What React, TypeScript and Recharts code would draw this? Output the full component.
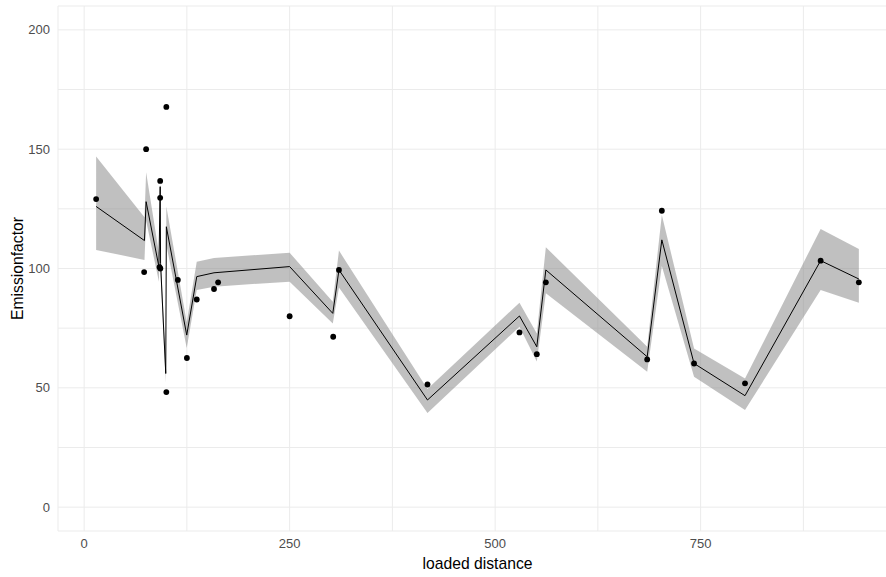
import { ComposedChart, Area, Line, Scatter, XAxis, YAxis, CartesianGrid, Label } from 'recharts';

// observed points
const pointX = [14.6, 73, 75.4, 92.5, 92.5, 91.7, 92.7, 100, 100, 114, 125, 137, 158, 163, 250, 303, 310, 417.7, 529.6, 550.7, 561.7, 685, 702.8, 742, 804, 896, 942.5];
const pointY = [129.1, 98.5, 150, 136.7, 129.6, 100.6, 100, 167.7, 48.2, 95.2, 62.5, 87, 91.4, 94.2, 80, 71.4, 99.4, 51.4, 73.2, 64.1, 94.2, 61.9, 124.2, 60.2, 51.9, 103.3, 94.2];

// fitted line with confidence band
const fitX = [14.6, 73.4, 75.4, 91, 92.5, 93, 99.3, 100, 124.8, 137, 158, 250, 302.5, 310, 417.7, 529.6, 550.7, 561.7, 685, 702.8, 742, 804, 896, 942.5];
const fitY = [126, 111.7, 128, 100.7, 134.3, 102, 56, 117.5, 72.1, 96.6, 98.2, 100.8, 81.2, 99.4, 44.9, 80.1, 67.2, 99.4, 63, 112, 60.2, 46.7, 103.3, 95.6];
const fitLo = [107.8, 103.6, 120, 94.5, 129, 97, 52, 110, 66.7, 91, 92.4, 94.5, 77, 92, 39.4, 75.6, 61, 89.6, 56.7, 101, 54.6, 40.7, 91, 85.7];
const fitHi = [146.9, 121.5, 140.3, 106.5, 138, 106, 60, 126, 77.5, 102.8, 104.4, 106.6, 86.1, 107.5, 49.5, 85.7, 72.8, 108.9, 67.2, 122.4, 66.5, 53.9, 116.6, 108.2];

const xTicks = [0, 125, 250, 375, 500, 625, 750, 875];
const xLabels = [0, 250, 500, 750];
const yTicks = [0, 25, 50, 75, 100, 125, 150, 175, 200];
const yLabels = [0, 50, 100, 150, 200];

const fitData = fitX.map((x, i) => ({ x, fit: fitY[i], band: [fitLo[i], fitHi[i]] }));
const pointData = pointX.map((x, i) => ({ x, y: pointY[i] }));

const tickStyle = { fill: '#4d4d4d', fontSize: 13, fontFamily: 'Liberation Sans, Arial, sans-serif' };
const titleStyle = { fill: '#000', fontSize: 15.7, fontFamily: 'Liberation Sans, Arial, sans-serif' };

export default function App() {
  return (
    <div style={{ width: 886, height: 577, overflow: 'hidden', background: '#fff' }}>
      <style>{'body{margin:0}'}</style>
      <ComposedChart width={897} height={577} data={fitData} margin={{ top: 6, right: 0, bottom: 0, left: 0 }}>
        <CartesianGrid stroke="#ebebeb" strokeWidth={1} />
        <XAxis
          type="number"
          dataKey="x"
          domain={[-31.8, 988.9]}
          ticks={xTicks}
          allowDataOverflow
          axisLine={false}
          tickLine={false}
          tickSize={0}
          tickMargin={8}
          height={46}
          tick={tickStyle}
          tickFormatter={(v: number) => (xLabels.includes(v) ? String(v) : '')}
        >
          <Label
            content={({ viewBox }: any) => (
              <text x={viewBox.x + viewBox.width / 2} y={viewBox.y + 32} textAnchor="middle" dominantBaseline="central" style={titleStyle}>
                loaded distance
              </text>
            )}
          />
        </XAxis>
        <YAxis
          type="number"
          domain={[-10, 210]}
          ticks={yTicks}
          allowDataOverflow
          axisLine={false}
          tickLine={false}
          tickSize={0}
          tickMargin={8}
          width={58}
          tick={tickStyle}
          tickFormatter={(v: number) => (yLabels.includes(v) ? String(v) : '')}
        >
          <Label
            content={({ viewBox }: any) => {
              const cx = viewBox.x + 17;
              const cy = viewBox.y + viewBox.height / 2;
              return (
                <text x={cx} y={cy} transform={`rotate(-90 ${cx} ${cy})`} textAnchor="middle" dominantBaseline="central" style={titleStyle}>
                  Emissionfactor
                </text>
              );
            }}
          />
        </YAxis>
        <Area type="linear" dataKey="band" stroke="none" fill="#8c8c8c" fillOpacity={0.55} isAnimationActive={false} />
        <Line type="linear" dataKey="fit" stroke="#000" strokeWidth={1} dot={false} isAnimationActive={false} />
        <Scatter data={pointData} dataKey="y" fill="#000" shape={(p: any) => <circle cx={p.cx} cy={p.cy} r={2.9} fill="#000" />} isAnimationActive={false} />
      </ComposedChart>
    </div>
  );
}
